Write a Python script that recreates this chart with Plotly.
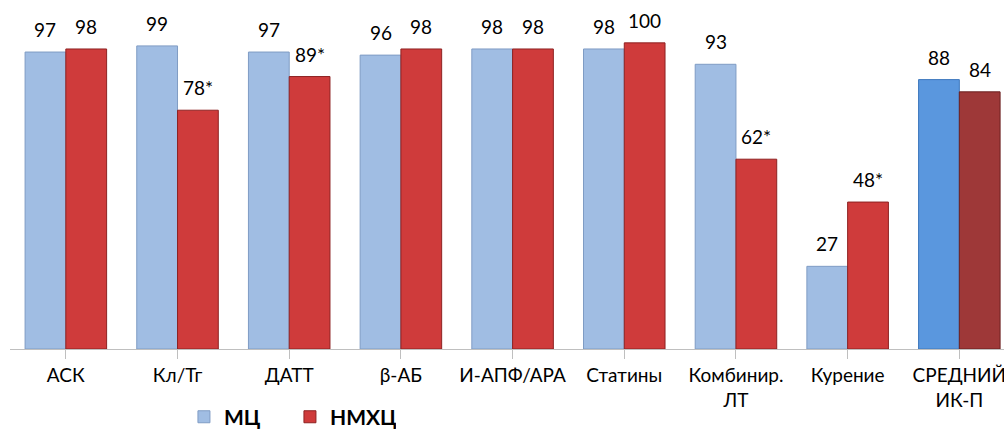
import plotly.graph_objects as go

# Categories and series values
categories = ["АСК", "Кл/Тг", "ДАТТ", "β-АБ", "И-АПФ/АРА", "Статины",
              "Комбинир.<br>ЛТ", "Курение", "СРЕДНИЙ<br>ИК-П"]
mc_values = [97, 99, 97, 96, 98, 98, 93, 27, 88]
nmhc_values = [98, 78, 89, 98, 98, 100, 62, 48, 84]
# "*" marks a significant difference
nmhc_marks = ["", "*", "*", "", "", "", "*", "*", ""]

series_names = ["МЦ", "НМХЦ"]

FONT = "Lato, 'Open Sans', sans-serif"
BARGAP = 0.27

mc_colors = ["#A0BDE3"] * 8 + ["#5A97DE"]
mc_lines = ["#7F9CC4"] * 8 + ["#3F79BD"]
nmhc_colors = ["#CF3B3B"] * 8 + ["#9E3838"]
nmhc_lines = ["#8E2222"] * 8 + ["#6B2020"]

idx = list(range(len(categories)))

fig = go.Figure()
fig.add_trace(go.Bar(
    x=idx, y=mc_values, name=series_names[0],
    marker=dict(color=mc_colors, line=dict(color=mc_lines, width=1)),
))
fig.add_trace(go.Bar(
    x=idx, y=nmhc_values, name=series_names[1],
    marker=dict(color=nmhc_colors, line=dict(color=nmhc_lines, width=1)),
))

# Value labels above each bar
half = (1 - BARGAP) / 4
for i in idx:
    fig.add_annotation(x=i - half, y=mc_values[i], text=str(mc_values[i]),
                       yanchor="bottom", yshift=9, showarrow=False,
                       font=dict(family=FONT, size=19, color="#000"))
    fig.add_annotation(x=i + half, y=nmhc_values[i],
                       text=f"{nmhc_values[i]}{nmhc_marks[i]}",
                       yanchor="bottom", yshift=9, showarrow=False,
                       font=dict(family=FONT, size=19, color="#000"))

fig.update_layout(
    width=1004, height=430,
    margin=dict(l=10, r=0, t=0, b=81, autoexpand=False),
    plot_bgcolor="white", paper_bgcolor="white",
    barmode="group", bargap=BARGAP, bargroupgap=0,
    font=dict(family=FONT, size=19, color="#000"),
    showlegend=True,
    legend=dict(orientation="h", x=0.175, xanchor="left",
                yref="container", y=0.03, yanchor="middle",
                font=dict(family=FONT, size=21, color="#000", weight="bold"),
                entrywidth=61, entrywidthmode="pixels",
                itemwidth=30, traceorder="normal"),
    xaxis=dict(
        tickmode="array", tickvals=idx, ticktext=categories,
        range=[-0.5, 8.4], showline=True, linecolor="#BFBFBF", linewidth=1,
        ticks="outside", tickson="boundaries", ticklen=9, tickcolor="#BFBFBF",
        showgrid=False, zeroline=False, ticklabeloverflow="allow",
        automargin=False,
        tickfont=dict(family=FONT, size=19, color="#000"),
    ),
    yaxis=dict(range=[0, 114], visible=False, showgrid=False, zeroline=False),
)

fig.write_html("out.html")
